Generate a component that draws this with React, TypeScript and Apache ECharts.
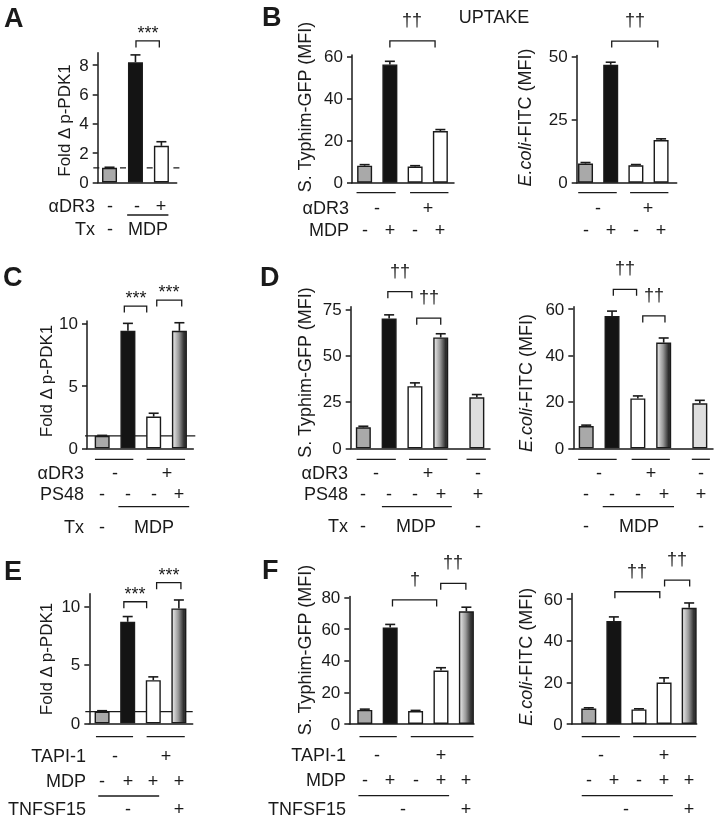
import React, { useEffect, useRef } from 'react';
import * as echarts from 'echarts';

const FONT = '"Liberation Sans", Arial, Helvetica, sans-serif';
const INK = '#1a1a1a';

// ---------- data ----------
const refLevel = 1;

const aValues = [1.0, 8.2, 2.5];
const aErrors = [0.04, 0.5, 0.28];
const aTicks = [0, 2, 4, 6, 8];

const bSalValues = [8.1, 56.3, 7.7, 24.6];
const bSalErrors = [0.5, 1.5, 0.4, 0.7];
const bSalTicks = [0, 20, 40, 60];
const bEcoValues = [7.6, 46.8, 6.9, 16.9];
const bEcoErrors = [0.4, 1.0, 0.3, 0.5];
const bEcoTicks = [0, 25, 50];

const cValues = [1.0, 9.45, 2.55, 9.45];
const cErrors = [0.04, 0.6, 0.27, 0.65];
const cTicks = [0, 5, 10];

const dSalValues = [11.3, 70.0, 33.5, 59.8, 27.5];
const dSalErrors = [0.6, 2.0, 1.8, 2.0, 1.5];
const dSalTicks = [0, 25, 50, 75];
const dEcoValues = [9.6, 57.1, 21.5, 45.6, 19.4];
const dEcoErrors = [0.4, 2.1, 1.1, 2.0, 1.3];
const dEcoTicks = [0, 20, 40, 60];

const eValues = [1.0, 8.7, 3.7, 9.85];
const eErrors = [0.08, 0.45, 0.28, 0.72];
const eTicks = [0, 5, 10];

const fSalValues = [8.9, 61.0, 8.2, 33.8, 71.3];
const fSalErrors = [0.5, 2.0, 0.4, 1.8, 2.6];
const fSalTicks = [0, 20, 40, 60, 80];
const fEcoValues = [7.4, 49.5, 7.0, 19.9, 55.9];
const fEcoErrors = [0.4, 2.0, 0.3, 2.3, 2.3];
const fEcoTicks = [0, 20, 40, 60];

const titlePDK = 'Fold Δ p-PDK1';
const titleSal = 'S. Typhim-GFP (MFI)';
const titleEco = '{i|E.coli}-FITC (MFI)';

type Fill = 'gray' | 'black' | 'white' | 'grad' | 'light';

const fillStyle = (f: Fill): any => {
  switch (f) {
    case 'gray': return '#a9a9a9';
    case 'black': return '#141414';
    case 'white': return '#ffffff';
    case 'light': return '#dedede';
    default:
      return new echarts.graphic.LinearGradient(0, 0, 1, 0, [
        { offset: 0, color: '#ececec' },
        { offset: 0.45, color: '#9a9a9a' },
        { offset: 0.85, color: '#2e2e2e' },
        { offset: 1, color: '#3c3c3c' },
      ]);
  }
};

interface Row { label?: string; dy: number; cells: [number, string][] }
interface Span { x1: number; x2: number; dy: number }
interface Bracket { x1: number; x2: number; y: number; label: string }
interface Panel {
  grid: [number, number, number, number];
  xMin: number; xMax: number; yMax: number; ticks: number[];
  slots: number[]; values: number[]; errors: number[]; fills: Fill[];
  ref?: { dash?: number[]; startPx: number; endPx: number };
  brackets: Bracket[]; rows: Row[]; spans: Span[];
}

const fourSlots = [0, 1, 2, 3];

const panels: Panel[] = [
  // A
  {
    grid: [97.7, 52.7, 79, 129.8], xMin: -0.456, xMax: 2.59, yMax: 8.85, ticks: aTicks,
    slots: [0, 1, 2], values: aValues, errors: aErrors, fills: ['gray', 'black', 'white'],
    ref: { dash: [6, 20.7], startPx: -4.4, endPx: 3.3 },
    brackets: [{ x1: 1.02, x2: 1.92, y: 9.65, label: '***' }],
    rows: [
      { label: 'αDR3', dy: 23, cells: [[0, '-'], [1.05, '-'], [2, '+']] },
      { label: 'Tx', dy: 46.5, cells: [[0, '-'], [1.5, 'MDP']] },
    ],
    spans: [{ x1: 0.68, x2: 2.27, dy: 32.5 }],
  },
  // B left
  {
    grid: [352, 55, 102, 127.7], xMin: -0.5, xMax: 3.54, yMax: 60.8, ticks: bSalTicks,
    slots: fourSlots, values: bSalValues, errors: bSalErrors, fills: ['gray', 'black', 'white', 'white'],
    brackets: [{ x1: 1.0, x2: 2.79, y: 67.5, label: '††' }],
    rows: [
      { label: 'αDR3', dy: 25.6, cells: [[0.5, '-'], [2.5, '+']] },
      { label: 'MDP', dy: 47.3, cells: [[0, '-'], [1, '+'], [2, '-'], [3, '+']] },
    ],
    spans: [{ x1: -0.32, x2: 1.23, dy: 10 }, { x1: 1.8, x2: 3.32, dy: 10 }],
  },
  // B right
  {
    grid: [576.7, 55.4, 100, 127.3], xMin: -0.35, xMax: 3.62, yMax: 50.5, ticks: bEcoTicks,
    slots: fourSlots, values: bEcoValues, errors: bEcoErrors, fills: ['gray', 'black', 'white', 'white'],
    brackets: [{ x1: 1.04, x2: 2.87, y: 56.2, label: '††' }],
    rows: [
      { dy: 25.6, cells: [[0.5, '-'], [2.5, '+']] },
      { dy: 47.3, cells: [[0, '-'], [1, '+'], [2, '-'], [3, '+']] },
    ],
    spans: [{ x1: -0.29, x2: 1.24, dy: 10 }, { x1: 1.77, x2: 3.29, dy: 10 }],
  },
  // C
  {
    grid: [87, 321, 106.3, 127.3], xMin: -0.59, xMax: 3.54, yMax: 10.24, ticks: cTicks,
    slots: fourSlots, values: cValues, errors: cErrors, fills: ['gray', 'black', 'white', 'grad'],
    ref: { startPx: -2, endPx: 2 },
    brackets: [
      { x1: 0.86, x2: 1.73, y: 11.44, label: '***' },
      { x1: 2.12, x2: 3.09, y: 11.92, label: '***' },
    ],
    rows: [
      { label: 'αDR3', dy: 25, cells: [[0.5, '-'], [2.5, '+']] },
      { label: 'PS48', dy: 46, cells: [[0, '-'], [1, '-'], [2, '-'], [3, '+']] },
      { label: 'Tx', dy: 78.4, cells: [[0, '-'], [2, 'MDP']] },
    ],
    spans: [
      { x1: -0.28, x2: 1.21, dy: 11 }, { x1: 1.73, x2: 3.22, dy: 11 },
      { x1: 0.63, x2: 3.38, dy: 58.4 },
    ],
  },
  // D left
  {
    grid: [350.7, 306.7, 139.3, 141.6], xMin: -0.49, xMax: 4.91, yMax: 76.4, ticks: dSalTicks,
    slots: [0, 1, 2, 3, 4.4], values: dSalValues, errors: dSalErrors,
    fills: ['gray', 'black', 'white', 'grad', 'light'],
    brackets: [
      { x1: 0.95, x2: 1.88, y: 84.5, label: '††' },
      { x1: 2.07, x2: 3.0, y: 70.2, label: '††' },
    ],
    rows: [
      { label: 'αDR3', dy: 25, cells: [[0.5, '-'], [2.5, '+'], [4.45, '-']] },
      { label: 'PS48', dy: 46, cells: [[0, '-'], [1, '-'], [2, '-'], [3, '+'], [4.45, '+']] },
      { label: 'Tx', dy: 77.4, cells: [[0, '-'], [2.05, 'MDP'], [4.45, '-']] },
    ],
    spans: [
      { x1: -0.26, x2: 1.26, dy: 11 }, { x1: 1.77, x2: 3.26, dy: 11 },
      { x1: 4.0, x2: 4.75, dy: 11 }, { x1: 0.72, x2: 3.43, dy: 58.4 },
    ],
  },
  // D right
  {
    grid: [573.3, 306.7, 139.7, 141.6], xMin: -0.5, xMax: 4.91, yMax: 61.1, ticks: dEcoTicks,
    slots: [0, 1, 2, 3, 4.4], values: dEcoValues, errors: dEcoErrors,
    fills: ['gray', 'black', 'white', 'grad', 'light'],
    brackets: [
      { x1: 1.05, x2: 1.95, y: 68.6, label: '††' },
      { x1: 2.19, x2: 3.05, y: 57.1, label: '††' },
    ],
    rows: [
      { dy: 25, cells: [[0.5, '-'], [2.5, '+'], [4.45, '-']] },
      { dy: 46, cells: [[0, '-'], [1, '-'], [2, '-'], [3, '+'], [4.45, '+']] },
      { dy: 77.4, cells: [[0, '-'], [2.05, 'MDP'], [4.45, '-']] },
    ],
    spans: [
      { x1: -0.31, x2: 1.18, dy: 11 }, { x1: 1.76, x2: 3.24, dy: 11 },
      { x1: 4.09, x2: 4.79, dy: 11 }, { x1: 0.64, x2: 3.4, dy: 58.4 },
    ],
  },
  // E
  {
    grid: [89.3, 593.8, 103.4, 129.5], xMin: -0.5, xMax: 3.54, yMax: 11.1, ticks: eTicks,
    slots: fourSlots, values: eValues, errors: eErrors, fills: ['gray', 'black', 'white', 'grad'],
    ref: { startPx: -4, endPx: 0 },
    brackets: [
      { x1: 0.85, x2: 1.74, y: 10.42, label: '***' },
      { x1: 2.13, x2: 3.08, y: 12.05, label: '***' },
    ],
    rows: [
      { label: 'TAPI-1', dy: 32.7, cells: [[0.5, '-'], [2.5, '+']] },
      { label: 'MDP', dy: 57.4, cells: [[0, '-'], [1, '+'], [2, '+'], [3, '+']] },
      { label: 'TNFSF15', dy: 86, cells: [[1, '-'], [3, '+']] },
    ],
    spans: [
      { x1: -0.24, x2: 1.21, dy: 13.4 }, { x1: 1.74, x2: 3.23, dy: 13.4 },
      { x1: -0.15, x2: 2.23, dy: 72.7 },
    ],
  },
  // F left
  {
    grid: [349.3, 596.6, 124.7, 127.4], xMin: -0.61, xMax: 4.3, yMax: 80.6, ticks: fSalTicks,
    slots: [0, 1, 2, 3, 4], values: fSalValues, errors: fSalErrors,
    fills: ['gray', 'black', 'white', 'white', 'grad'],
    brackets: [
      { x1: 1.09, x2: 2.83, y: 78.5, label: '†' },
      { x1: 2.99, x2: 3.98, y: 89, label: '††' },
    ],
    rows: [
      { label: 'TAPI-1', dy: 31, cells: [[0.5, '-'], [3, '+']] },
      { label: 'MDP', dy: 56, cells: [[0, '-'], [1, '+'], [2, '-'], [3, '+'], [4, '+']] },
      { label: 'TNFSF15', dy: 85.3, cells: [[1.5, '-'], [4, '+']] },
    ],
    spans: [
      { x1: -0.21, x2: 1.26, dy: 12.7 }, { x1: 1.81, x2: 4.28, dy: 12.7 },
      { x1: -0.25, x2: 3.32, dy: 71.7 },
    ],
  },
  // F right
  {
    grid: [571.7, 593.4, 125, 130.6], xMin: -0.68, xMax: 4.3, yMax: 62.8, ticks: fEcoTicks,
    slots: [0, 1, 2, 3, 4], values: fEcoValues, errors: fEcoErrors,
    fills: ['gray', 'black', 'white', 'white', 'grad'],
    brackets: [
      { x1: 1.04, x2: 2.83, y: 63.6, label: '††' },
      { x1: 3.02, x2: 4.02, y: 69.2, label: '††' },
    ],
    rows: [
      { dy: 31, cells: [[0.5, '-'], [3, '+']] },
      { dy: 56, cells: [[0, '-'], [1, '+'], [2, '-'], [3, '+'], [4, '+']] },
      { dy: 85.3, cells: [[1.5, '-'], [4, '+']] },
    ],
    spans: [
      { x1: -0.28, x2: 1.24, dy: 12.7 }, { x1: 1.77, x2: 4.28, dy: 12.7 },
      { x1: -0.28, x2: 3.35, dy: 71.7 },
    ],
  },
];

// y-axis titles: [text, x, y, fontSize]
const yTitles: [string, number, number, number][] = [
  [titlePDK, 64, 120.5, 17],
  [titleSal, 305, 107, 18],
  [titleEco, 525, 117.5, 18],
  [titlePDK, 46, 381, 17],
  [titleSal, 305, 372.5, 18],
  [titleEco, 526, 383, 18],
  [titlePDK, 46, 659, 17],
  [titleSal, 305, 650, 18],
  [titleEco, 526, 656.7, 18],
];

const panelLetters: [string, number, number][] = [
  ['A', 4, 17.5], ['B', 262, 17], ['C', 3, 277], ['D', 260, 277], ['E', 4, 571], ['F', 262, 569.5],
];

const R = (v: number) => Math.round(v);

const textStyle = (text: string, size: number, align: string, extra: any = {}) => ({
  text, fill: INK, fontSize: size, fontFamily: FONT,
  align, verticalAlign: 'middle', textAlign: align, textVerticalAlign: 'middle', ...extra,
});

function buildOption() {
  const grid: any[] = [];
  const xAxis: any[] = [];
  const yAxis: any[] = [];
  const series: any[] = [];
  const axisLine = { show: true, onZero: false, lineStyle: { color: INK, width: 1.5 } };

  panels.forEach((p, i) => {
    grid.push({
      left: p.grid[0], top: p.grid[1], width: p.grid[2], height: p.grid[3],
      containLabel: false, outerBoundsMode: 'none',
    });
    xAxis.push({
      type: 'value', gridIndex: i, min: p.xMin, max: p.xMax,
      axisLine, axisTick: { show: false }, axisLabel: { show: false }, splitLine: { show: false },
    });
    yAxis.push({
      type: 'value', gridIndex: i, min: 0, max: p.yMax,
      axisLine,
      axisTick: { show: true, length: 5, customValues: p.ticks, lineStyle: { color: INK, width: 1.5 } },
      axisLabel: { customValues: p.ticks, fontSize: 17, fontFamily: FONT, color: INK, margin: 9 },
      splitLine: { show: false },
    });

    if (p.ref) {
      const ref = p.ref;
      series.push({
        type: 'custom', xAxisIndex: i, yAxisIndex: i, z: 1, silent: true,
        data: [[p.xMin, refLevel]],
        renderItem: (_: any, api: any) => {
          const a = api.coord([p.xMin, api.value(1)]);
          const b = api.coord([p.xMax, api.value(1)]);
          return {
            type: 'line',
            shape: { x1: a[0] + ref.startPx, y1: a[1], x2: b[0] + ref.endPx, y2: b[1] },
            style: { stroke: INK, lineWidth: 1.4, lineDash: ref.dash || null },
          };
        },
      });
    }

    series.push({
      type: 'bar', xAxisIndex: i, yAxisIndex: i, barWidth: 15, z: 2, silent: true,
      data: p.values.map((v, k) => ({
        value: [p.slots[k], v],
        itemStyle: { color: fillStyle(p.fills[k]), borderColor: INK, borderWidth: 1.4 },
      })),
    });

    series.push({
      type: 'custom', xAxisIndex: i, yAxisIndex: i, z: 3, silent: true,
      data: p.values.map((v, k) => [p.slots[k], v, p.errors[k]]),
      renderItem: (_: any, api: any) => {
        const x = api.value(0), v = api.value(1), e = api.value(2);
        const base = api.coord([x, v]);
        const top = api.coord([x, v + e]);
        const st = { stroke: INK, lineWidth: 1.6 };
        return {
          type: 'group', children: [
            { type: 'line', shape: { x1: base[0], y1: base[1], x2: top[0], y2: top[1] }, style: st },
            { type: 'line', shape: { x1: top[0] - 5, y1: top[1], x2: top[0] + 5, y2: top[1] }, style: st },
          ],
        };
      },
    });

    series.push({
      type: 'custom', xAxisIndex: i, yAxisIndex: i, z: 4, silent: true, clip: false,
      data: p.brackets.map((b) => [b.x1, b.y, b.x2]),
      renderItem: (params: any, api: any) => {
        const b = p.brackets[params.dataIndex];
        const l = api.coord([api.value(0), api.value(1)]);
        const r = api.coord([api.value(2), api.value(1)]);
        const leg = 6.5;
        const star = b.label.indexOf('*') >= 0;
        return {
          type: 'group', children: [
            {
              type: 'polyline',
              shape: { points: [[l[0], l[1] + leg], [l[0], l[1]], [r[0], r[1]], [r[0], r[1] + leg]] },
              style: { stroke: INK, fill: 'none', lineWidth: 1.3 },
            },
            {
              type: 'text', x: R((l[0] + r[0]) / 2), y: R(l[1] + (star ? -8 : -21)),
              style: textStyle(b.label, 18, 'center'),
            },
          ],
        };
      },
    });

    series.push({
      type: 'custom', xAxisIndex: i, yAxisIndex: i, z: 4, silent: true, clip: false,
      data: [[p.xMin, 0]],
      renderItem: (_: any, api: any) => {
        const origin = api.coord([p.xMin, 0]);
        const children: any[] = [];
        p.rows.forEach((row) => {
          const y = R(origin[1] + row.dy);
          if (row.label) {
            children.push({ type: 'text', x: R(origin[0] - 3), y, style: textStyle(row.label, 18, 'right') });
          }
          row.cells.forEach(([cx, t]) => {
            const px = R(api.coord([cx, 0])[0]);
            children.push({ type: 'text', x: px, y, style: textStyle(t, 18, 'center') });
          });
        });
        p.spans.forEach((s) => {
          const a = api.coord([s.x1, 0])[0];
          const b = api.coord([s.x2, 0])[0];
          const y = origin[1] + s.dy;
          children.push({
            type: 'line', shape: { x1: a, y1: y, x2: b, y2: y },
            style: { stroke: INK, lineWidth: 1.3 },
          });
        });
        return { type: 'group', children };
      },
    });
  });

  const graphic: any[] = [];
  yTitles.forEach(([t, x, y, fs]) => {
    graphic.push({
      type: 'text', x, y, rotation: Math.PI / 2, silent: true,
      style: textStyle(t, fs, 'center', { rich: { i: { fontStyle: 'italic', fontSize: fs, fontFamily: FONT, fill: INK } } }),
    });
  });
  panelLetters.forEach(([t, x, y]) => {
    graphic.push({
      type: 'text', x, y, silent: true,
      style: textStyle(t, 27, 'left', { fontWeight: 'bold' }),
    });
  });
  graphic.push({ type: 'text', x: 494, y: 17, silent: true, style: textStyle('UPTAKE', 18, 'center') });

  return {
    animation: false,
    backgroundColor: '#ffffff',
    textStyle: { fontFamily: FONT },
    grid, xAxis, yAxis, series,
    graphic: { elements: graphic },
  };
}

export default function App() {
  const ref = useRef<HTMLDivElement>(null);
  useEffect(() => {
    if (!ref.current) return;
    const chart = echarts.init(ref.current, null, { renderer: 'svg', width: 714, height: 822 });
    chart.setOption(buildOption() as any);
    return () => chart.dispose();
  }, []);
  return (
    <div
      ref={ref}
      style={{ position: 'absolute', left: 0, top: 0, width: 714, height: 822, willChange: 'transform' }}
    />
  );
}
